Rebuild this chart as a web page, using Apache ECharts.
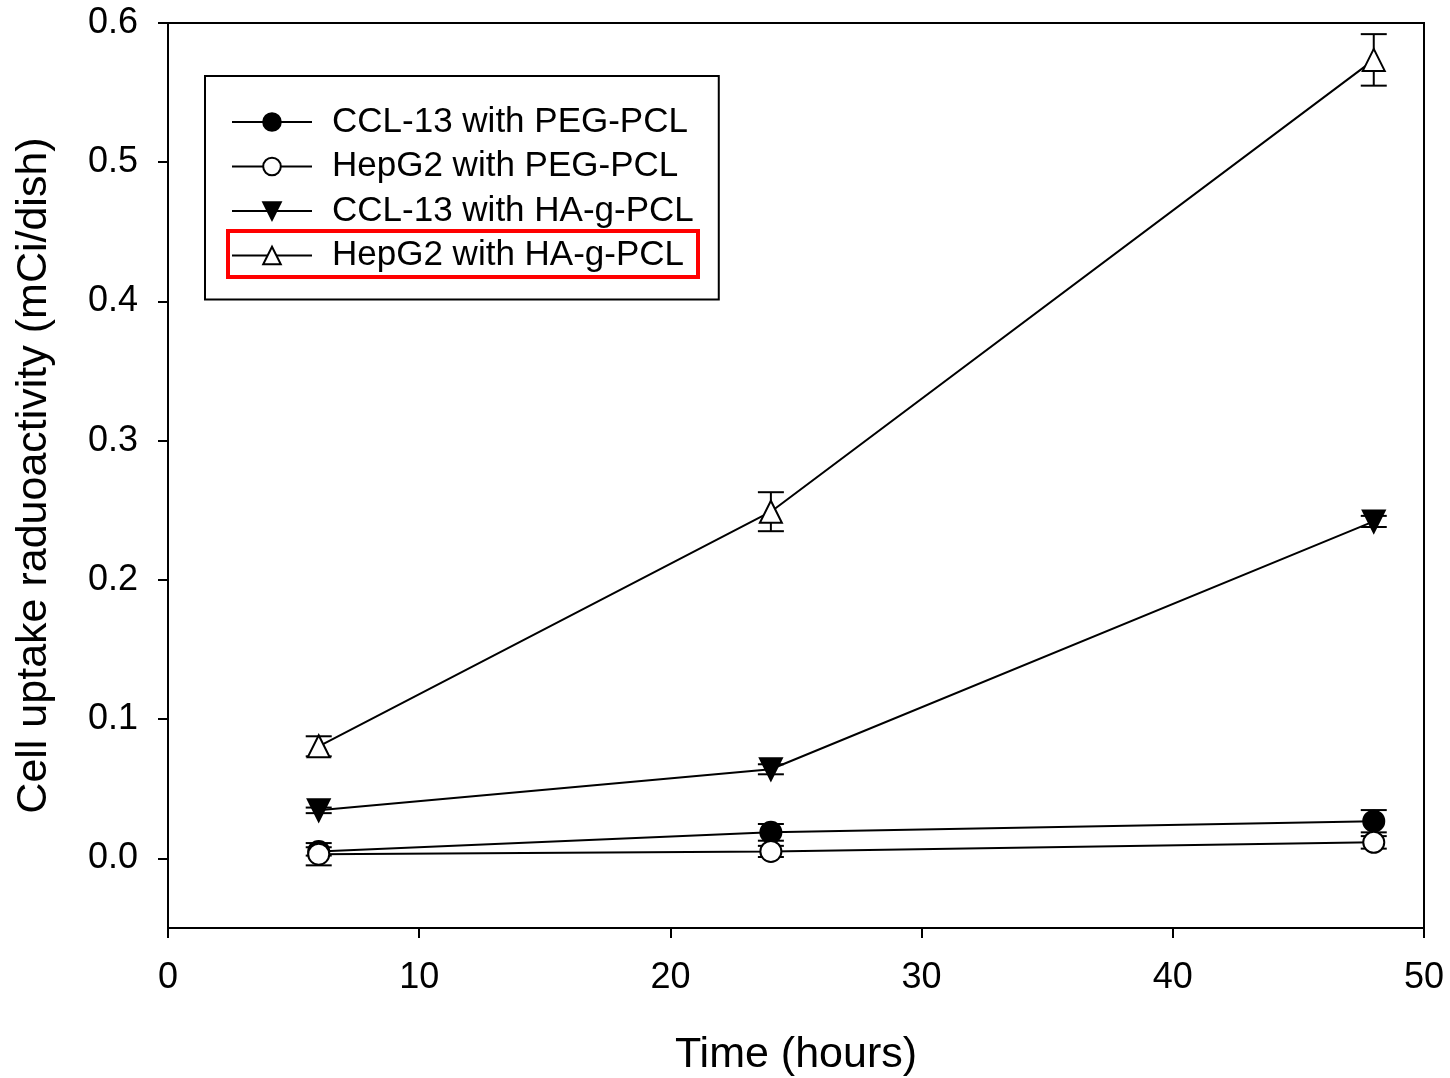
<!DOCTYPE html>
<html>
<head>
<meta charset="utf-8">
<script src="https://cdn.jsdelivr.net/npm/echarts@6/dist/echarts.min.js"></script>
<style>html,body{margin:0;padding:0;background:#fff}#c{width:1450px;height:1078px}</style>
</head>
<body>
<div id="c"></div>
<script>
const times = [6, 24, 48];
const seriesNames = ['CCL-13 with PEG-PCL', 'HepG2 with PEG-PCL', 'CCL-13 with HA-g-PCL', 'HepG2 with HA-g-PCL'];
const ccl13Peg = [0.005, 0.0187, 0.0267];
const ccl13PegErr = [0.003, 0.006, 0.008];
const hepg2Peg = [0.003, 0.005, 0.0115];
const hepg2PegErr = [0.008, 0.004, 0.0045];
const ccl13Ha = [0.0345, 0.064, 0.242];
const ccl13HaErr = [0.002, 0.0036, 0.004];
const hepg2Ha = [0.0805, 0.249, 0.5735];
const hepg2HaErr = [0.0072, 0.014, 0.0185];
const yTicks = [0, 0.1, 0.2, 0.3, 0.4, 0.5, 0.6];

const font = 'Liberation Sans, Arial, sans-serif';
const chart = echarts.init(document.getElementById('c'));

function errSeries(vals, errs) {
  return {
    type: 'custom',
    silent: true,
    z: 1,
    data: times.map((t, i) => [t, vals[i], errs[i]]),
    renderItem: function (params, api) {
      const x = api.value(0), y = api.value(1), e = api.value(2);
      const top = api.coord([x, y + e]);
      const bot = api.coord([x, y - e]);
      const w = 13;
      const st = { stroke: '#000', lineWidth: 2 };
      return {
        type: 'group',
        children: [
          { type: 'line', shape: { x1: top[0], y1: top[1], x2: bot[0], y2: bot[1] }, style: st },
          { type: 'line', shape: { x1: top[0] - w, y1: top[1], x2: top[0] + w, y2: top[1] }, style: st },
          { type: 'line', shape: { x1: bot[0] - w, y1: bot[1], x2: bot[0] + w, y2: bot[1] }, style: st }
        ]
      };
    }
  };
}

function lineSeries(name, vals, symbol, filled, rotate) {
  return {
    name: name,
    type: 'line',
    z: 3,
    data: times.map((t, i) => [t, vals[i]]),
    symbol: symbol,
    symbolSize: symbol === 'circle' ? 21 : 22,
    symbolRotate: rotate || 0,
    showAllSymbol: true,
    lineStyle: { color: '#000', width: 2 },
    itemStyle: { color: filled ? '#000' : '#fff', borderColor: '#000', borderWidth: 2 },
    emphasis: { disabled: true },
    animation: false
  };
}

chart.setOption({
  animation: false,
  backgroundColor: '#fff',
  grid: { left: 168, right: 26, top: 23, bottom: 150, outerBoundsMode: 'none', containLabel: false, show: true, borderColor: '#000', borderWidth: 2, backgroundColor: 'transparent' },
  xAxis: {
    type: 'value', min: 0, max: 50, interval: 10,
    name: 'Time (hours)', nameLocation: 'middle', nameGap: 106,
    nameTextStyle: { fontSize: 43, color: '#000', fontFamily: font },
    axisLine: { onZero: false, lineStyle: { color: '#000', width: 2 } },
    axisTick: { show: true, length: 10, lineStyle: { color: '#000', width: 2 } },
    axisLabel: { fontSize: 36, color: '#000', fontFamily: font, margin: 32 },
    splitLine: { show: false }
  },
  yAxis: {
    type: 'value', min: -0.05, max: 0.6,
    name: 'Cell uptake raduoactivity (mCi/dish)', nameLocation: 'middle', nameGap: 112,
    nameTextStyle: { fontSize: 43, color: '#000', fontFamily: font },
    axisLine: { onZero: false, lineStyle: { color: '#000', width: 2 } },
    axisTick: { show: true, length: 10, lineStyle: { color: '#000', width: 2 }, customValues: yTicks },
    axisLabel: { fontSize: 36, color: '#000', fontFamily: font, margin: 30, customValues: yTicks, formatter: v => v.toFixed(1) },
    splitLine: { show: false }
  },
  legend: {
    data: seriesNames,
    orient: 'vertical',
    left: 205, top: 76,
    padding: [28, 25, 26, 26],
    itemWidth: 80, itemHeight: 22, itemGap: 8.5,
    backgroundColor: '#fff',
    borderColor: '#000', borderWidth: 2,
    selectedMode: false,
    textStyle: { fontSize: 35, lineHeight: 36, color: '#000', fontFamily: font, padding: [0, 0, 0, 15] }
  },
  series: [
    errSeries(ccl13Peg, ccl13PegErr),
    errSeries(hepg2Peg, hepg2PegErr),
    errSeries(ccl13Ha, ccl13HaErr),
    errSeries(hepg2Ha, hepg2HaErr),
    lineSeries(seriesNames[0], ccl13Peg, 'circle', true),
    lineSeries(seriesNames[1], hepg2Peg, 'circle', false),
    lineSeries(seriesNames[2], ccl13Ha, 'triangle', true, 180),
    lineSeries(seriesNames[3], hepg2Ha, 'triangle', false)
  ],
  graphic: [
    { type: 'rect', z: 100, shape: { x: 228, y: 231, width: 470, height: 46 }, style: { fill: 'none', stroke: '#ff0000', lineWidth: 4 } }
  ]
});
</script>
</body>
</html>
